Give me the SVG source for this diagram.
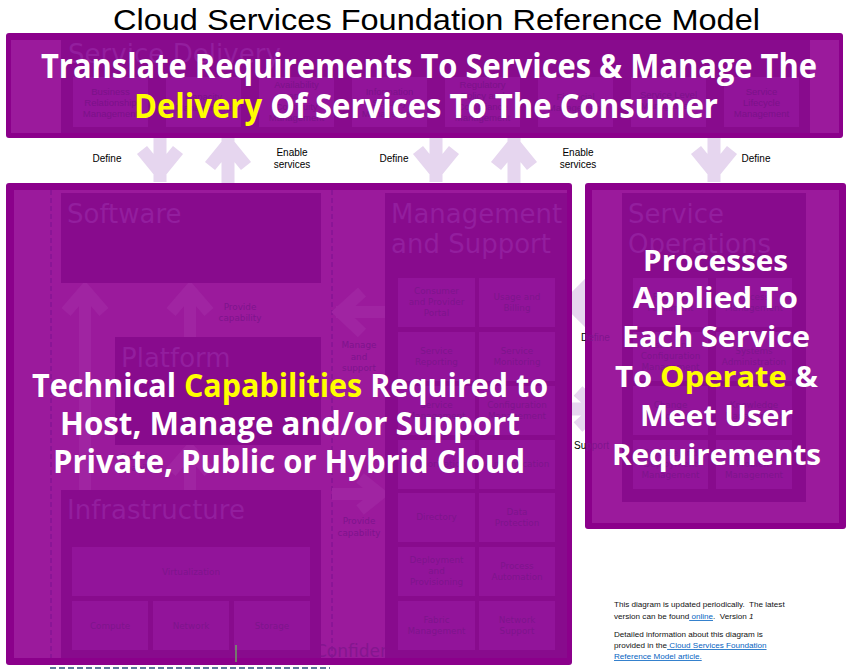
<svg xmlns="http://www.w3.org/2000/svg" width="852" height="672" viewBox="0 0 852 672">
<defs>
<style>
.ttl{font-family:"Liberation Sans",Arial,sans-serif;font-size:29px;fill:#000}
.lbl{font-family:"Liberation Sans",Arial,sans-serif;font-size:10px;fill:#000}
.big-arrow{fill:none;stroke:#E6D6EF;stroke-width:13;stroke-linejoin:miter}
.fa{fill:none;stroke:#A024A2;stroke-width:12;stroke-linejoin:miter}
.outer{fill:#8B008B}
.inner{fill:#9B1A9C}
.dark{fill:#880B8D}
.sub{fill:#92149A}
.ftitle{font-family:"DejaVu Sans",Verdana,sans-serif;font-size:26px;fill:#931E9E}
.flbl{font-family:"DejaVu Sans",Verdana,sans-serif;font-size:8.8px;fill:#7E148C;text-anchor:middle}
.flbl2{font-family:"Liberation Sans",Arial,sans-serif;font-size:9.5px;fill:#7B1289;text-anchor:middle}
.dash{stroke:#7A1190;stroke-width:1;stroke-dasharray:5 3}
.cap{font-family:"Open Sans",Lato,sans-serif;font-weight:700;fill:#FFF}
.hl{fill:#FFFF00}
.note{font-family:"Liberation Sans",Arial,sans-serif;font-size:8.1px;fill:#111}
.link{fill:#0563C1;text-decoration:underline}
</style>
<linearGradient id="gD" gradientUnits="userSpaceOnUse" x1="585" y1="0" x2="586" y2="0"><stop offset="0" stop-color="#000"/><stop offset="1" stop-color="#7E148C"/></linearGradient>
</defs>
<rect width="852" height="672" fill="#FFF"/>
<g id="title"><text class="ttl" x="113" y="30" textLength="647" lengthAdjust="spacingAndGlyphs">Cloud Services Foundation Reference Model</text></g>

<g id="connectors">
<path class="big-arrow" d="M160 132V182M142 150L160 172L178 150"/>
<path class="big-arrow" d="M228 136V188M210 166L228 144L246 166"/>
<path class="big-arrow" d="M436 132V182M418 150L436 172L454 150"/>
<path class="big-arrow" d="M514 136V188M496 166L514 144L532 166"/>
<path class="big-arrow" d="M714 132V182M696 150L714 172L732 150"/>
<path class="big-arrow" d="M600 303H566M590 283L570 303L590 323"/>
<path class="big-arrow" d="M560 409H600M578 391L598 409L578 427"/>
<text class="lbl" x="107" y="162" text-anchor="middle">Define</text>
<text class="lbl" x="292" y="156" text-anchor="middle">Enable</text>
<text class="lbl" x="292" y="168" text-anchor="middle">services</text>
<text class="lbl" x="394" y="162" text-anchor="middle">Define</text>
<text class="lbl" x="578" y="156" text-anchor="middle">Enable</text>
<text class="lbl" x="578" y="168" text-anchor="middle">services</text>
<text class="lbl" x="756" y="162" text-anchor="middle">Define</text>
</g>

<g id="service-delivery">
<rect class="outer" x="6" y="33" width="837" height="105" rx="3"/>
<rect class="inner" x="11" y="40" width="828" height="93"/>
<rect class="dark" x="61" y="40" width="749" height="93"/>
<text class="ftitle" x="68" y="63" textLength="213" lengthAdjust="spacingAndGlyphs">Service Delivery</text>
<rect class="sub" x="73" y="77" width="75" height="50"/>
<rect class="sub" x="166" y="77" width="75" height="50"/>
<rect class="sub" x="259" y="77" width="75" height="50"/>
<rect class="sub" x="352" y="77" width="75" height="50"/>
<rect class="sub" x="445" y="77" width="75" height="50"/>
<rect class="sub" x="538" y="77" width="75" height="50"/>
<rect class="sub" x="631" y="77" width="75" height="50"/>
<rect class="sub" x="724" y="77" width="75" height="50"/>
<text class="flbl2"><tspan x="110.5" y="95">Business</tspan><tspan x="110.5" y="106">Relationship</tspan><tspan x="110.5" y="117">Management</tspan></text>
<text class="flbl2"><tspan x="203.5" y="100">Capacity</tspan><tspan x="203.5" y="111">Management</tspan></text>
<text class="flbl2"><tspan x="296.5" y="88">Availability</tspan><tspan x="296.5" y="99">and</tspan><tspan x="296.5" y="110">Continuity</tspan><tspan x="296.5" y="121">Management</tspan></text>
<text class="flbl2"><tspan x="389.5" y="95">Information</tspan><tspan x="389.5" y="106">Security</tspan><tspan x="389.5" y="117">Management</tspan></text>
<text class="flbl2"><tspan x="482.5" y="88">Regulatory</tspan><tspan x="482.5" y="99">Policy and</tspan><tspan x="482.5" y="110">Compliance</tspan><tspan x="482.5" y="121">Management</tspan></text>
<text class="flbl2"><tspan x="575.5" y="100">Financial</tspan><tspan x="575.5" y="111">Management</tspan></text>
<text class="flbl2"><tspan x="668.5" y="98">Service Level</tspan><tspan x="668.5" y="109">Management</tspan></text>
<text class="flbl2"><tspan x="761.5" y="95">Service</tspan><tspan x="761.5" y="106">Lifecycle</tspan><tspan x="761.5" y="117">Management</tspan></text>
<text class="cap" font-size="34" x="41" y="78" textLength="776" lengthAdjust="spacingAndGlyphs">Translate Requirements To Services &amp; Manage The</text>
<text class="cap" font-size="34" x="134" y="118" textLength="584" lengthAdjust="spacingAndGlyphs"><tspan class="hl">Delivery</tspan> Of Services To The Consumer</text>
</g>

<g id="capabilities-panel">
<rect class="outer" x="6" y="183" width="566" height="482" rx="3"/>
<rect class="inner" x="14" y="190" width="553" height="468"/>
<line class="dash" x1="51" y1="190" x2="51" y2="658"/>
<line class="dash" x1="332" y1="190" x2="332" y2="658"/>
<text font-family="DejaVu Sans, Verdana, sans-serif" font-size="17" fill="#84168F" x="315" y="657">Confidential</text>
</g>

<g id="inner-connectors">
<path class="fa" stroke-width="11" d="M85 292V490M66 312L85 290L104 312"/>
<path class="fa" d="M190 292V337M171 312L190 290L209 312"/>
<path class="fa" d="M190 450V490M171 472L190 450L209 472"/>
<path class="fa" d="M336 312H385M362 292L340 312L362 333"/>
<path class="fa" d="M332 494H382M360 478L380 494L360 510"/>
<text class="flbl"><tspan x="240" y="310">Provide</tspan><tspan x="240" y="321">capability</tspan></text>
<text class="flbl"><tspan x="137" y="460">Provide</tspan><tspan x="137" y="471">capability</tspan></text>
<text class="flbl" font-size="9.5"><tspan x="359" y="348">Manage</tspan><tspan x="359" y="360">and</tspan><tspan x="359" y="371">support</tspan></text>
<text class="flbl" font-size="9.5"><tspan x="359" y="524">Provide</tspan><tspan x="359" y="536">capability</tspan></text>
</g>

<g id="software">
<rect class="dark" x="61" y="193" width="260" height="90"/>
<text class="ftitle" x="67" y="223">Software</text>
</g>

<g id="platform">
<rect class="dark" x="115" y="337" width="206" height="108"/>
<text class="ftitle" x="121" y="367">Platform</text>
</g>

<g id="infrastructure">
<rect class="dark" x="61" y="490" width="260" height="168"/>
<text class="ftitle" x="67" y="519">Infrastructure</text>
<rect class="sub" x="72" y="547" width="238" height="49"/>
<rect class="sub" x="72" y="601" width="76" height="49"/>
<rect class="sub" x="153" y="601" width="76" height="49"/>
<rect class="sub" x="234" y="601" width="76" height="49"/>
<text class="flbl" x="191" y="575">Virtualization</text>
<text class="flbl" x="110" y="629">Compute</text>
<text class="flbl" x="191" y="629">Network</text>
<text class="flbl" x="272" y="629">Storage</text>
</g>

<g id="management-support">
<rect class="dark" x="385" y="193" width="182" height="465"/>
<text class="ftitle" x="391" y="223">Management</text>
<text class="ftitle" x="391" y="253">and Support</text>
<rect class="sub" x="398" y="278" width="77" height="49"/><rect class="sub" x="479" y="278" width="76" height="49"/>
<rect class="sub" x="398" y="332" width="77" height="49"/><rect class="sub" x="479" y="332" width="76" height="49"/>
<rect class="sub" x="398" y="386" width="77" height="49"/><rect class="sub" x="479" y="386" width="76" height="49"/>
<rect class="sub" x="398" y="440" width="77" height="49"/><rect class="sub" x="479" y="440" width="76" height="49"/>
<rect class="sub" x="398" y="493" width="77" height="49"/><rect class="sub" x="479" y="493" width="76" height="49"/>
<rect class="sub" x="398" y="547" width="77" height="49"/><rect class="sub" x="479" y="547" width="76" height="49"/>
<rect class="sub" x="398" y="601" width="77" height="49"/><rect class="sub" x="479" y="601" width="76" height="49"/>
<text class="flbl"><tspan x="436.5" y="294">Consumer</tspan><tspan x="436.5" y="305">and Provider</tspan><tspan x="436.5" y="316">Portal</tspan></text>
<text class="flbl"><tspan x="517" y="300">Usage and</tspan><tspan x="517" y="311">Billing</tspan></text>
<text class="flbl"><tspan x="436.5" y="354">Service</tspan><tspan x="436.5" y="365">Reporting</tspan></text>
<text class="flbl"><tspan x="517" y="354">Service</tspan><tspan x="517" y="365">Monitoring</tspan></text>
<text class="flbl"><tspan x="436.5" y="408">Service</tspan><tspan x="436.5" y="419">Management</tspan></text>
<text class="flbl"><tspan x="517" y="408">Configuration</tspan><tspan x="517" y="419">Management</tspan></text>
<text class="flbl" x="436.5" y="467">Authorization</text>
<text class="flbl" x="517" y="467">Authentication</text>
<text class="flbl" x="436.5" y="520">Directory</text>
<text class="flbl"><tspan x="517" y="515">Data</tspan><tspan x="517" y="526">Protection</tspan></text>
<text class="flbl"><tspan x="436.5" y="563">Deployment</tspan><tspan x="436.5" y="574">and</tspan><tspan x="436.5" y="585">Provisioning</tspan></text>
<text class="flbl"><tspan x="517" y="569">Process</tspan><tspan x="517" y="580">Automation</tspan></text>
<text class="flbl"><tspan x="436.5" y="623">Fabric</tspan><tspan x="436.5" y="634">Management</tspan></text>
<text class="flbl"><tspan x="517" y="623">Network</tspan><tspan x="517" y="634">Support</tspan></text>
</g>

<g id="capabilities-caption">
<text class="cap" font-size="32" x="32" y="397" textLength="516" lengthAdjust="spacingAndGlyphs">Technical <tspan class="hl">Capabilities</tspan> Required to</text>
<text class="cap" font-size="32" x="60" y="435" textLength="460" lengthAdjust="spacingAndGlyphs">Host, Manage and/or Support</text>
<text class="cap" font-size="32" x="53" y="473" textLength="472" lengthAdjust="spacingAndGlyphs">Private, Public or Hybrid Cloud</text>
<line x1="236" y1="645" x2="236" y2="662" stroke="#63E54C" stroke-width="1"/>
<line x1="50" y1="668" x2="330" y2="668" stroke="#2B4C7E" stroke-width="1.5" stroke-dasharray="6 3"/>
</g>

<g id="service-operations">
<rect class="outer" x="585" y="183" width="261" height="346" rx="3"/>
<rect class="inner" x="592" y="190" width="247" height="333"/>
<rect class="dark" x="622" y="193" width="184" height="309"/>
<text class="ftitle" x="628" y="223">Service</text>
<text class="ftitle" x="628" y="253">Operations</text>
<rect class="sub" x="633" y="278" width="75" height="49"/><rect class="sub" x="716" y="278" width="76" height="49"/>
<rect class="sub" x="633" y="332" width="75" height="49"/><rect class="sub" x="716" y="332" width="76" height="49"/>
<rect class="sub" x="633" y="386" width="75" height="49"/><rect class="sub" x="716" y="386" width="76" height="49"/>
<rect class="sub" x="633" y="440" width="75" height="49"/><rect class="sub" x="716" y="440" width="76" height="49"/>
<text class="flbl"><tspan x="670.5" y="300">Request</tspan><tspan x="670.5" y="311">Fulfillment</tspan></text>
<text class="flbl"><tspan x="754" y="300">Access</tspan><tspan x="754" y="311">Management</tspan></text>
<text class="flbl"><tspan x="670.5" y="348">Asset and</tspan><tspan x="670.5" y="359">Configuration</tspan><tspan x="670.5" y="370">Management</tspan></text>
<text class="flbl"><tspan x="754" y="354">Systems</tspan><tspan x="754" y="365">Administration</tspan></text>
<text class="flbl"><tspan x="670.5" y="408">Change</tspan><tspan x="670.5" y="419">Management</tspan></text>
<text class="flbl"><tspan x="754" y="408">Knowledge</tspan><tspan x="754" y="419">Management</tspan></text>
<text class="flbl"><tspan x="670.5" y="456">Release and</tspan><tspan x="670.5" y="467">Deployment</tspan><tspan x="670.5" y="478">Management</tspan></text>
<text class="flbl"><tspan x="754" y="456">Incident and</tspan><tspan x="754" y="467">Problem</tspan><tspan x="754" y="478">Management</tspan></text>
<text class="cap" font-size="29" x="643" y="271" textLength="145" lengthAdjust="spacingAndGlyphs">Processes</text>
<text class="cap" font-size="29" x="633" y="308" textLength="165" lengthAdjust="spacingAndGlyphs">Applied To</text>
<text class="cap" font-size="29" x="622" y="347" textLength="188" lengthAdjust="spacingAndGlyphs">Each Service</text>
<text class="cap" font-size="29" x="615" y="387" textLength="203" lengthAdjust="spacingAndGlyphs">To <tspan class="hl">Operate</tspan> &amp;</text>
<text class="cap" font-size="29" x="640" y="426" textLength="153" lengthAdjust="spacingAndGlyphs">Meet User</text>
<text class="cap" font-size="29" x="612" y="465" textLength="209" lengthAdjust="spacingAndGlyphs">Requirements</text>
</g>

<g id="side-labels">
<text font-family="Liberation Sans, Arial, sans-serif" font-size="10" fill="url(#gD)" x="581" y="341">Define</text>
<text font-family="Liberation Sans, Arial, sans-serif" font-size="10" fill="url(#gD)" x="574" y="449">Support</text>
</g>

<g id="notes">
<text class="note" x="614" y="607" xml:space="preserve">This diagram is updated periodically.  The latest</text>
<text class="note" x="614" y="619" xml:space="preserve">version can be found<tspan class="link"> online</tspan>.  Version <tspan font-style="italic">1</tspan></text>
<text class="note" x="614" y="637">Detailed information about this diagram is</text>
<text class="note" x="614" y="648" xml:space="preserve">provided in the<tspan class="link"> Cloud Services Foundation</tspan></text>
<text class="note link" x="614" y="659">Reference Model article.</text>
</g>
</svg>
